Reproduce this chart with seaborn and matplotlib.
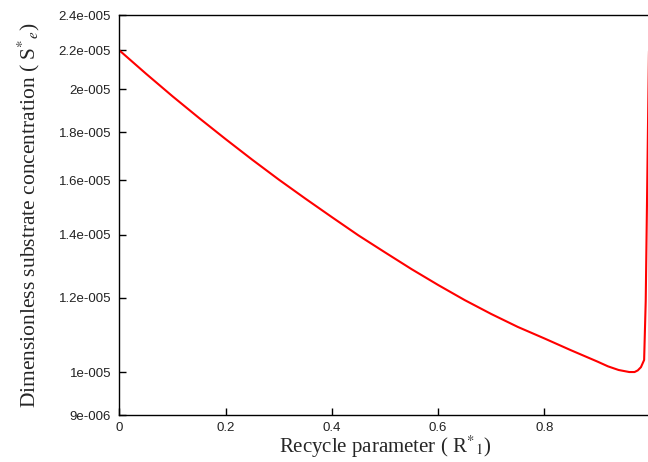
import matplotlib
matplotlib.use('Agg')
import matplotlib.pyplot as plt
import seaborn as sns
import pandas as pd

# values
recycle = [0.0, 0.05, 0.1, 0.15, 0.2, 0.25, 0.3, 0.35, 0.4, 0.45, 0.5, 0.55,
           0.6, 0.65, 0.7, 0.75, 0.8, 0.85, 0.9, 0.92, 0.94, 0.96, 0.97, 0.976,
           0.982, 0.988, 0.991, 0.997, 1.0]
substrate = [2.200e-5, 2.078e-5, 1.966e-5, 1.864e-5, 1.770e-5, 1.683e-5, 1.603e-5,
             1.530e-5, 1.462e-5, 1.398e-5, 1.341e-5, 1.287e-5, 1.238e-5, 1.193e-5,
             1.153e-5, 1.117e-5, 1.086e-5, 1.055e-5, 1.026e-5, 1.014e-5, 1.005e-5,
             1.0e-5, 1.0e-5, 1.004e-5, 1.012e-5, 1.03e-5, 1.19e-5, 2.175e-5, 2.6e-5]
ytick_vals = [9e-6, 1e-5, 1.2e-5, 1.4e-5, 1.6e-5, 1.8e-5, 2e-5, 2.2e-5, 2.4e-5]
ytick_labels = ['9e-006', '1e-005', '1.2e-005', '1.4e-005', '1.6e-005',
                '1.8e-005', '2e-005', '2.2e-005', '2.4e-005']
xtick_vals = [0, 0.2, 0.4, 0.6, 0.8]
xtick_labels = ['0', '0.2', '0.4', '0.6', '0.8']

df = pd.DataFrame({'R': recycle, 'S': substrate})

sns.set_style('ticks', {'xtick.direction': 'in', 'ytick.direction': 'in'})
plt.rcParams['font.family'] = ['Liberation Sans', 'DejaVu Sans']
plt.rcParams['mathtext.fontset'] = 'stix'

fig = plt.figure(figsize=(6.48, 4.62), dpi=100)
ax = fig.add_axes([119.5 / 648, 47 / 462, 531 / 648, 400 / 462])

sns.lineplot(data=df, x='R', y='S', color='#ff0000', linewidth=1.5, ax=ax)

ax.set_yscale('log')
ax.set_xlim(0, 1)
ax.set_ylim(9e-6, 2.4e-5)
ax.set_yticks(ytick_vals)
ax.set_yticklabels(ytick_labels)
ax.minorticks_off()
ax.set_xticks(xtick_vals)
ax.set_xticklabels(xtick_labels)
ax.tick_params(which='major', direction='in', length=5, width=1, labelsize=9.5,
               color='black', labelcolor='#222222', left=True, bottom=True,
               top=False, right=False, pad=6)
ax.tick_params(axis='x', pad=5)

for s in ax.spines.values():
    s.set_visible(True)
    s.set_color('black')
    s.set_linewidth(1.0)

ax.set_xlabel(r'Recycle parameter ( R$^{*}{}_{1}$)', family='Liberation Serif',
              fontsize=15, labelpad=0)
ax.set_ylabel(r'Dimensionless substrate concentration ( S$^{*}{}_{e}$)',
              family='Liberation Serif', fontsize=15.5, labelpad=12)

fig.savefig('out.png', dpi=100)
